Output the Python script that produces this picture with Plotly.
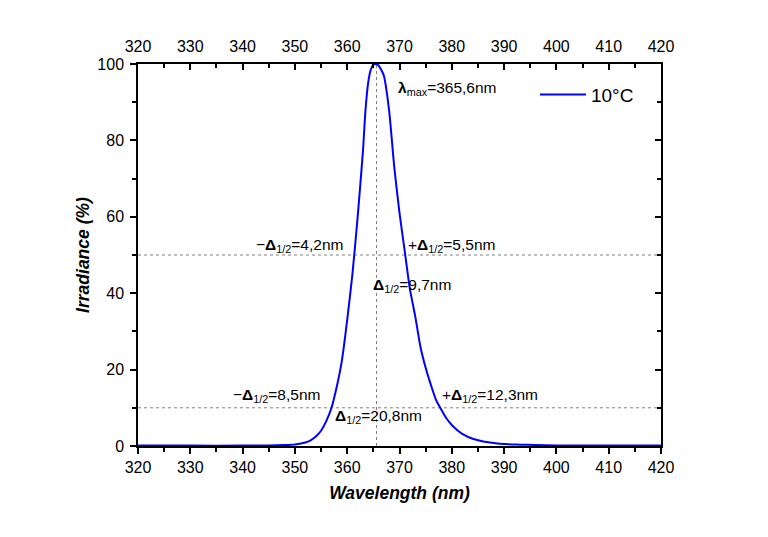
import plotly.graph_objects as go

# ---- data ----
wavelength = [320, 330, 340, 345, 348, 350, 352, 353, 354, 355, 356, 357, 358, 359, 360,
              361, 362, 363, 363.5, 364, 364.5, 365, 365.6, 366, 366.5, 367, 368, 369, 370,
              371, 372, 373, 374, 375, 376, 377, 378, 379, 380, 381, 382, 384, 386, 388,
              390, 393, 396, 400, 410, 420]
irradiance = [0.1, 0.1, 0.1, 0.15, 0.25, 0.4, 0.9, 1.5, 2.5, 4.0, 6.5, 10.0, 15.5, 22.5, 33,
              45, 60, 77, 88, 95, 98.5, 99.8, 100, 99.6, 98.5, 97, 88, 73, 61,
              51, 41, 34, 26, 20.5, 16, 12, 9.5, 7.2, 5.5, 4.2, 3.2, 1.9, 1.2, 0.8,
              0.5, 0.35, 0.25, 0.15, 0.1, 0.1]
series_name = "10°C"
lambda_max = 365.6
half_level = 50
tenth_level = 10
x_range = [320, 420]
y_range = [0, 100]
x_ticks = list(range(320, 421, 10))
y_ticks = list(range(0, 101, 20))

font_family = "Liberation Sans, Arial, sans-serif"

fig = go.Figure()

dot = dict(color="#808080", width=1, dash="dot")
fig.add_trace(go.Scatter(x=x_range, y=[half_level, half_level], mode="lines",
                         line=dot, showlegend=False, hoverinfo="skip"))
fig.add_trace(go.Scatter(x=x_range, y=[tenth_level, tenth_level], mode="lines",
                         line=dot, showlegend=False, hoverinfo="skip"))
fig.add_trace(go.Scatter(x=[lambda_max, lambda_max], y=y_range, mode="lines",
                         line=dot, showlegend=False, hoverinfo="skip"))

fig.add_trace(go.Scatter(x=wavelength, y=irradiance, mode="lines", name=series_name,
                         line=dict(color="#0000ff", width=2, shape="spline", smoothing=0.6)))

# invisible traces for top / right axes
fig.add_trace(go.Scatter(x=x_range, y=y_range, xaxis="x2", yaxis="y2", mode="lines",
                         line=dict(width=0), showlegend=False, hoverinfo="skip", opacity=0))

axis_common = dict(showgrid=False, zeroline=False, showline=True, linecolor="black",
                   linewidth=1.5, tickcolor="black", tickwidth=1.5,
                   tickfont=dict(family=font_family, size=16, color="black"))

fig.update_layout(
    width=768, height=537,
    margin=dict(l=130, r=115, t=56, b=99),
    paper_bgcolor="white", plot_bgcolor="white",
    font=dict(family=font_family, color="black"),
    xaxis=dict(range=x_range, tickvals=x_ticks, ticks="outside", ticklen=6,
               minor=dict(dtick=5, ticks="outside", ticklen=4, tickcolor="black", tickwidth=1.5),
               title=dict(text="<b><i>Wavelength (nm)</i></b>",
                          font=dict(family=font_family, size=17.5), standoff=12),
               **axis_common),
    yaxis=dict(range=y_range, tickvals=y_ticks, ticks="outside", ticklen=6,
               ticklabelstandoff=3,
               minor=dict(dtick=10, ticks="outside", ticklen=4, tickcolor="black", tickwidth=1.5),
               title=dict(text="<b><i>Irradiance (%)</i></b>",
                          font=dict(family=font_family, size=17.5), standoff=3),
               **axis_common),
    xaxis2=dict(range=x_range, tickvals=x_ticks, ticks="inside", ticklen=6, side="top",
                overlaying="x", ticklabelstandoff=4,
                minor=dict(dtick=5, ticks="inside", ticklen=4, tickcolor="black", tickwidth=1.5),
                **axis_common),
    yaxis2=dict(range=y_range, tickvals=y_ticks, ticks="inside", ticklen=6, side="right",
                overlaying="y", showticklabels=False,
                minor=dict(dtick=10, ticks="inside", ticklen=4, tickcolor="black", tickwidth=1.5),
                **axis_common),
    legend=dict(x=0.759, y=0.92, xanchor="left", yanchor="middle", itemwidth=46,
                font=dict(family=font_family, size=19), bgcolor="rgba(0,0,0,0)"),
)

ann_font = dict(family=font_family, size=15.5, color="black")
annotations = [
    (369.3, 93.5, "left", "<b>λ</b><sub>max</sub>=365,6nm"),
    (359.6, 52.6, "right", "−<b>Δ</b><sub>1/2</sub>=4,2nm"),
    (371.2, 52.6, "left", "+<b>Δ</b><sub>1/2</sub>=5,5nm"),
    (364.6, 42.0, "left", "<b>Δ</b><sub>1/2</sub>=9,7nm"),
    (355.2, 13.3, "right", "−<b>Δ</b><sub>1/2</sub>=8,5nm"),
    (377.7, 13.3, "left", "+<b>Δ</b><sub>1/2</sub>=12,3nm"),
    (357.3, 7.8, "left", "<b>Δ</b><sub>1/2</sub>=20,8nm"),
]
for ax, ay, anchor, txt in annotations:
    fig.add_annotation(x=ax, y=ay, xref="x", yref="y", text=txt, showarrow=False,
                       xanchor=anchor, yanchor="middle", font=ann_font)

fig.write_html("out.html")
